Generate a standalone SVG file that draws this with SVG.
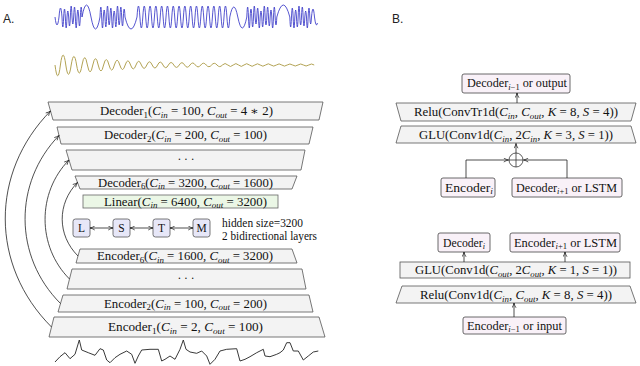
<svg xmlns="http://www.w3.org/2000/svg" width="640" height="366" viewBox="0 0 640 366">
<style>
.t{font-family:"Liberation Serif","DejaVu Serif",serif;font-size:11.5px;fill:#111}
.i{font-style:italic}
.s{font-size:8px}
.lab{font-family:"Liberation Sans","DejaVu Sans",sans-serif;font-size:12px;fill:#222}
.tz{fill:#f3f3f3;stroke:#555;stroke-width:0.8}
.lin{fill:#ebf7e6;stroke:#666;stroke-width:0.8}
.lstm{fill:#e7e7f8;stroke:#555;stroke-width:0.8}
.bx{fill:#f9f1f8;stroke:#444;stroke-width:0.8}
.c{fill:none;stroke:#222;stroke-width:0.8}
</style>
<defs>
<marker id="ah" viewBox="0 0 7 6" refX="6.5" refY="3" markerWidth="6" markerHeight="5" markerUnits="userSpaceOnUse" orient="auto-start-reverse">
<path d="M0.8,0.6 Q3.5,2.4 6.5,3 Q3.5,3.6 0.8,5.4" fill="none" stroke="#222" stroke-width="0.9"/>
</marker>
</defs>
<rect width="640" height="366" fill="#fff"/>
<text class="lab" x="3" y="23">A.</text>
<text class="lab" x="392" y="23">B.</text>
<g id="waveforms">
<path fill="none" stroke="#3838c8" stroke-width="0.85" stroke-linejoin="round" d="M55,17 q2,16 4,0 q1.5,-18 3,0
q.83,20 1.667,0 q.83,-16 1.667,0 q.83,22 1.667,0 q.83,-12 1.667,0 q.83,18 1.667,0 q.83,-22 1.667,0
q.83,14 1.667,0 q.83,-20 1.667,0 q.83,22 1.667,0 q.83,-14 1.667,0 q.83,18 1.667,0 q.83,-20 1.667,0
q4.5,-24 9,0 q4.5,24 9,0
q.83,-20 1.667,0 q.83,22 1.667,0 q.83,-14 1.667,0 q.83,20 1.667,0 q.83,-22 1.667,0 q.83,16 1.667,0
q.83,-18 1.667,0 q.83,22 1.667,0 q.83,-12 1.667,0 q.83,20 1.667,0 q.83,-22 1.667,0 q.83,16 1.667,0
q.83,-20 1.667,0 q.83,18 1.667,0 q.83,-16 1.667,0
q6,24 12,0
q1.45,-22 2.9,0 q1.45,22 2.9,0 q1.45,-22 2.9,0 q1.45,22 2.9,0
q1.45,-22 2.9,0 q1.45,22 2.9,0 q1.45,-22 2.9,0 q1.45,22 2.9,0
q1.45,-22 2.9,0 q1.45,22 2.9,0 q1.45,-22 2.9,0 q1.45,22 2.9,0
q1.45,-22 2.9,0 q1.45,22 2.9,0 q1.45,-22 2.9,0 q1.45,22 2.9,0
q1.45,-22 2.9,0 q1.45,22 2.9,0 q1.45,-22 2.9,0 q1.45,22 2.9,0
q1.45,-22 2.9,0 q1.45,22 2.9,0 q1.45,-22 2.9,0 q1.45,22 2.9,0
q1.45,-22 2.9,0 q1.45,22 2.9,0 q1.45,-22 2.9,0 q1.45,22 2.9,0
q1.45,-22 2.9,0 q1.45,22 2.9,0 q1.45,-22 2.9,0 q1.45,22 2.9,0
q4,-20 8,0 q4.5,22 9,0
q.83,-20 1.667,0 q.83,22 1.667,0 q.83,-16 1.667,0 q.83,20 1.667,0 q.83,-22 1.667,0 q.83,14 1.667,0
q.83,-18 1.667,0 q.83,22 1.667,0 q.83,-12 1.667,0 q.83,20 1.667,0 q.83,-22 1.667,0 q.83,16 1.667,0
q.83,-20 1.667,0 q.83,18 1.667,0 q.83,-14 1.667,0 q.83,22 1.667,0 q.83,-20 1.667,0 q.83,16 1.667,0
q6.5,-24 13,0
q.83,20 1.667,0 q.83,-18 1.667,0 q.83,22 1.667,0 q.83,-14 1.667,0 q.83,20 1.667,0 q.83,-22 1.667,0
q.83,16 1.667,0 q.83,-20 1.667,0 q.83,18 1.667,0 q.83,-12 1.667,0 q.83,22 1.667,0 q.83,-18 1.667,0
q.83,14 1.667,0
q1.5,-16 3,0 q1.5,12 3,6"/>
<path fill="none" stroke="#b3a354" stroke-width="1" d="M55,65 q2.7,21.6 5.4,0 q2.7,-20 5.4,0 q2.7,18.6 5.4,0 q2.7,-17.2 5.4,0 q2.7,16 5.4,0 q2.7,-14.8 5.4,0 q2.7,13.8 5.4,0 q2.7,-12.8 5.4,0 q2.7,12 5.4,0 q2.7,-11 5.4,0 q2.7,10.2 5.4,0 q2.7,-9.6 5.4,0 q2.7,9 5.4,0 q2.7,-8.4 5.4,0 q2.7,7.8 5.4,0 q2.7,-7.4 5.4,0 q2.7,6.8 5.4,0 q2.7,-6.4 5.4,0 q2.7,6 5.4,0 q2.7,-5.8 5.4,0 q2.7,5.4 5.4,0 q2.7,-5 5.4,0 q2.7,4.8 5.4,0 q2.7,-4.6 5.4,0 q2.7,4.4 5.4,0 q2.7,-4 5.4,0 q2.7,3.8 5.4,0 q2.7,-3.6 5.4,0 q2.7,3.4 5.4,0 q2.7,-3.4 5.4,0 q2.7,3.2 5.4,0 q2.7,-3 5.4,0 q2.7,3 5.4,0 q2.7,-2.8 5.4,0 q2.7,2.8 5.4,0 q2.7,-2.6 5.4,0 q2.7,2.6 5.4,0 q2.7,-2.4 5.4,0 q2.7,2.4 5.4,0 q2.7,-2.4 5.4,0 q2.7,2.2 5.4,0 q2.7,-2.2 5.4,0 q2.7,2.2 5.4,0 q2.7,-2 5.4,0 q2.7,2 5.4,0 q2.7,-2 5.4,0 q2.7,2 5.4,0 q2.7,-2 5.4,0"/>
<polyline fill="none" stroke="#222" stroke-width="0.9" stroke-linejoin="round" points="55,362 60,356.7 65,352.7 70,358.7 75,354.3 79.3,340 81.7,350 88.3,352.7 95,355.3 100,348.7 103.3,350 106.7,360 110,362.7 115,357.7 120,354.3 126.7,351 131.7,354.3 135,363.3 138.3,356 141.7,350 150,349.3 158.3,349.3 161.7,361 165,359.3 170,356 175,359.3 180,349.3 183.3,340 186,349.3 190,352 196.7,353.3 201.7,351 206.7,356 210,364.3 215,359.3 220,351 226.7,349.3 236.7,348.7 240,361 245,359.3 250,356.7 256.7,352.7 263.3,349.3 265,356 270,356.7 276.7,354.3 280,352.7 283.3,350 286.7,342.7 290,342.7 293.3,351 298.3,351 303.3,360 308.3,356 313.3,352 318.3,351"/>
</g>
<g id="decoder1"><polygon class="tz" points="48,102 323,102 319,120 53,120"/>
<text class="t" x="100" y="115" textLength="173" lengthAdjust="spacingAndGlyphs">Decoder<tspan class="s" dy="2.5">1</tspan><tspan dy="-2.5">(</tspan><tspan class="i">C</tspan><tspan class="s i" dy="2.5">in</tspan><tspan dy="-2.5"> = 100, </tspan><tspan class="i">C</tspan><tspan class="s i" dy="2.5">out</tspan><tspan dy="-2.5"> = 4 ∗ 2)</tspan></text></g>
<g id="decoder2"><polygon class="tz" points="57,127 313,127 309,144 61,144"/>
<text class="t" x="104" y="139" textLength="163" lengthAdjust="spacingAndGlyphs">Decoder<tspan class="s" dy="2.5">2</tspan><tspan dy="-2.5">(</tspan><tspan class="i">C</tspan><tspan class="s i" dy="2.5">in</tspan><tspan dy="-2.5"> = 200, </tspan><tspan class="i">C</tspan><tspan class="s i" dy="2.5">out</tspan><tspan dy="-2.5"> = 100)</tspan></text></g>
<g id="decoder-dots"><polygon class="tz" points="66,150 305,150 301,170 72,170"/>
<text class="t" x="186" y="163" text-anchor="middle" font-size="10">· · ·</text></g>
<g id="decoder6"><polygon class="tz" points="75,176 297,176 292,189 80,189"/>
<text class="t" x="98" y="186.5" textLength="175" lengthAdjust="spacingAndGlyphs">Decoder<tspan class="s" dy="2.5">6</tspan><tspan dy="-2.5">(</tspan><tspan class="i">C</tspan><tspan class="s i" dy="2.5">in</tspan><tspan dy="-2.5"> = 3200, </tspan><tspan class="i">C</tspan><tspan class="s i" dy="2.5">out</tspan><tspan dy="-2.5"> = 1600)</tspan></text></g>
<g id="linear"><rect class="lin" x="83" y="195" width="195" height="13"/>
<text class="t" x="104" y="205.5" textLength="163" lengthAdjust="spacingAndGlyphs">Linear(<tspan class="i">C</tspan><tspan class="s i" dy="2.5">in</tspan><tspan dy="-2.5"> = 6400, </tspan><tspan class="i">C</tspan><tspan class="s i" dy="2.5">out</tspan><tspan dy="-2.5"> = 3200)</tspan></text></g>
<g id="lstm-L"><rect class="lstm" x="73" y="219" width="17" height="18" rx="2.5"/><text class="t" x="81.5" y="232" text-anchor="middle">L</text></g>
<g id="lstm-S"><rect class="lstm" x="113" y="219" width="17" height="18" rx="2.5"/><text class="t" x="121.5" y="232" text-anchor="middle">S</text></g>
<g id="lstm-T"><rect class="lstm" x="153" y="219" width="17" height="18" rx="2.5"/><text class="t" x="161.5" y="232" text-anchor="middle">T</text></g>
<g id="lstm-M"><rect class="lstm" x="193" y="219" width="17" height="18" rx="2.5"/><text class="t" x="201.5" y="232" text-anchor="middle">M</text></g>
<g id="lstm-note">
<text class="t" x="222" y="227" textLength="81" lengthAdjust="spacingAndGlyphs">hidden size=3200</text>
<text class="t" x="222" y="240" textLength="95" lengthAdjust="spacingAndGlyphs">2 bidirectional layers</text></g>
<g id="encoder6"><polygon class="tz" points="80,249 292,249 297,263 76,263"/>
<text class="t" x="97" y="260" textLength="176" lengthAdjust="spacingAndGlyphs">Encoder<tspan class="s" dy="2.5">6</tspan><tspan dy="-2.5">(</tspan><tspan class="i">C</tspan><tspan class="s i" dy="2.5">in</tspan><tspan dy="-2.5"> = 1600, </tspan><tspan class="i">C</tspan><tspan class="s i" dy="2.5">out</tspan><tspan dy="-2.5"> = 3200)</tspan></text></g>
<g id="encoder-dots"><polygon class="tz" points="72,269 302,269 306,289 67,289"/>
<text class="t" x="186" y="282" text-anchor="middle" font-size="10">· · ·</text></g>
<g id="encoder2"><polygon class="tz" points="63,295 309,295 313,312 58,312"/>
<text class="t" x="104" y="307.5" textLength="163" lengthAdjust="spacingAndGlyphs">Encoder<tspan class="s" dy="2.5">2</tspan><tspan dy="-2.5">(</tspan><tspan class="i">C</tspan><tspan class="s i" dy="2.5">in</tspan><tspan dy="-2.5"> = 100, </tspan><tspan class="i">C</tspan><tspan class="s i" dy="2.5">out</tspan><tspan dy="-2.5"> = 200)</tspan></text></g>
<g id="encoder1"><polygon class="tz" points="54,317 319,317 325,337 49,337"/>
<text class="t" x="108" y="331" textLength="155" lengthAdjust="spacingAndGlyphs">Encoder<tspan class="s" dy="2.5">1</tspan><tspan dy="-2.5">(</tspan><tspan class="i">C</tspan><tspan class="s i" dy="2.5">in</tspan><tspan dy="-2.5"> = 2, </tspan><tspan class="i">C</tspan><tspan class="s i" dy="2.5">out</tspan><tspan dy="-2.5"> = 100)</tspan></text></g>
<g id="b-dec-out"><rect class="bx" x="462" y="74" width="108" height="19" rx="2"/>
<text class="t" x="467" y="87" textLength="100" lengthAdjust="spacingAndGlyphs">Decoder<tspan class="s" dy="2.5"><tspan class="i">i</tspan>−1</tspan><tspan dy="-2.5"> or output</tspan></text></g>
<g id="b-dec-relu"><polygon class="tz" points="396,103 636,103 631,121 401,121"/>
<text class="t" x="414" y="116" textLength="204" lengthAdjust="spacingAndGlyphs">Relu(ConvTr1d(<tspan class="i">C</tspan><tspan class="s i" dy="2.5">in</tspan><tspan dy="-2.5">, </tspan><tspan class="i">C</tspan><tspan class="s i" dy="2.5">out</tspan><tspan dy="-2.5">, </tspan><tspan class="i">K</tspan> = 8, <tspan class="i">S</tspan> = 4))</text></g>
<g id="b-dec-glu"><polygon class="tz" points="401,126 631,126 636,143 396,143"/>
<text class="t" x="419" y="139" textLength="194" lengthAdjust="spacingAndGlyphs">GLU(Conv1d(<tspan class="i">C</tspan><tspan class="s i" dy="2.5">in</tspan><tspan dy="-2.5">, 2</tspan><tspan class="i">C</tspan><tspan class="s i" dy="2.5">in</tspan><tspan dy="-2.5">, </tspan><tspan class="i">K</tspan> = 3, <tspan class="i">S</tspan> = 1))</text></g>
<g id="b-plus"><circle cx="516" cy="160" r="7" fill="#fff" stroke="#333" stroke-width="0.8"/><path d="M509,160 H523 M516,153 V167" stroke="#333" stroke-width="0.8"/></g>
<g id="b-enc-i"><rect class="bx" x="441" y="178" width="54" height="19" rx="2"/>
<text class="t" x="445" y="191.5" textLength="48" lengthAdjust="spacingAndGlyphs">Encoder<tspan class="s i" dy="2.5">i</tspan></text></g>
<g id="b-dec-next"><rect class="bx" x="512" y="178" width="110" height="19" rx="2"/>
<text class="t" x="516" y="191.5" textLength="101" lengthAdjust="spacingAndGlyphs">Decoder<tspan class="s" dy="2.5"><tspan class="i">i</tspan>+1</tspan><tspan dy="-2.5"> or LSTM</tspan></text></g>
<g id="b-dec-i"><rect class="bx" x="438" y="233" width="52" height="19" rx="2"/>
<text class="t" x="443" y="246.5" textLength="42" lengthAdjust="spacingAndGlyphs">Decoder<tspan class="s i" dy="2.5">i</tspan></text></g>
<g id="b-enc-next"><rect class="bx" x="510" y="233" width="110" height="19" rx="2"/>
<text class="t" x="514" y="246.5" textLength="103" lengthAdjust="spacingAndGlyphs">Encoder<tspan class="s" dy="2.5"><tspan class="i">i</tspan>+1</tspan><tspan dy="-2.5"> or LSTM</tspan></text></g>
<g id="b-enc-glu"><rect class="tz" x="400" y="262" width="230" height="16"/>
<text class="t" x="415" y="274" textLength="202" lengthAdjust="spacingAndGlyphs">GLU(Conv1d(<tspan class="i">C</tspan><tspan class="s i" dy="2.5">out</tspan><tspan dy="-2.5">, 2</tspan><tspan class="i">C</tspan><tspan class="s i" dy="2.5">out</tspan><tspan dy="-2.5">, </tspan><tspan class="i">K</tspan> = 1, <tspan class="i">S</tspan> = 1))</text></g>
<g id="b-enc-relu"><polygon class="tz" points="402,286 630,286 636,303 396,303"/>
<text class="t" x="420" y="299" textLength="192" lengthAdjust="spacingAndGlyphs">Relu(Conv1d(<tspan class="i">C</tspan><tspan class="s i" dy="2.5">in</tspan><tspan dy="-2.5">, </tspan><tspan class="i">C</tspan><tspan class="s i" dy="2.5">out</tspan><tspan dy="-2.5">, </tspan><tspan class="i">K</tspan> = 8, <tspan class="i">S</tspan> = 4))</text></g>
<g id="b-enc-in"><rect class="bx" x="463" y="317" width="103" height="17" rx="2"/>
<text class="t" x="467" y="329.5" textLength="95" lengthAdjust="spacingAndGlyphs">Encoder<tspan class="s" dy="2.5"><tspan class="i">i</tspan>−1</tspan><tspan dy="-2.5"> or input</tspan></text></g>
<g id="connectors" class="c">
<path marker-end="url(#ah)" d="M51.5,327 C-10,265.5 -10,172.5 50.5,111"/>
<path marker-end="url(#ah)" d="M60.5,303.5 C13.5,256.5 13.5,182.5 59,135.5"/>
<path marker-end="url(#ah)" d="M69.5,279 C37,246.5 37,192.5 69,160"/>
<path marker-end="url(#ah)" d="M78,256 C57,235 57,203.5 77.5,182.5"/>
<path marker-start="url(#ah)" marker-end="url(#ah)" d="M90,228 H113"/>
<path marker-start="url(#ah)" marker-end="url(#ah)" d="M130,228 H153"/>
<path marker-start="url(#ah)" marker-end="url(#ah)" d="M170,228 H193"/>
<path marker-end="url(#ah)" d="M517,103 V93"/>
<path marker-end="url(#ah)" d="M516,153 V143.5"/>
<path marker-end="url(#ah)" d="M466,178 V160 H508.5"/>
<path marker-end="url(#ah)" d="M567,178 V160 H523.5"/>
<path marker-end="url(#ah)" d="M464,262 V252"/>
<path marker-end="url(#ah)" d="M565,262 V252"/>
<path marker-end="url(#ah)" d="M514,317 V303"/>
</g>
</svg>
